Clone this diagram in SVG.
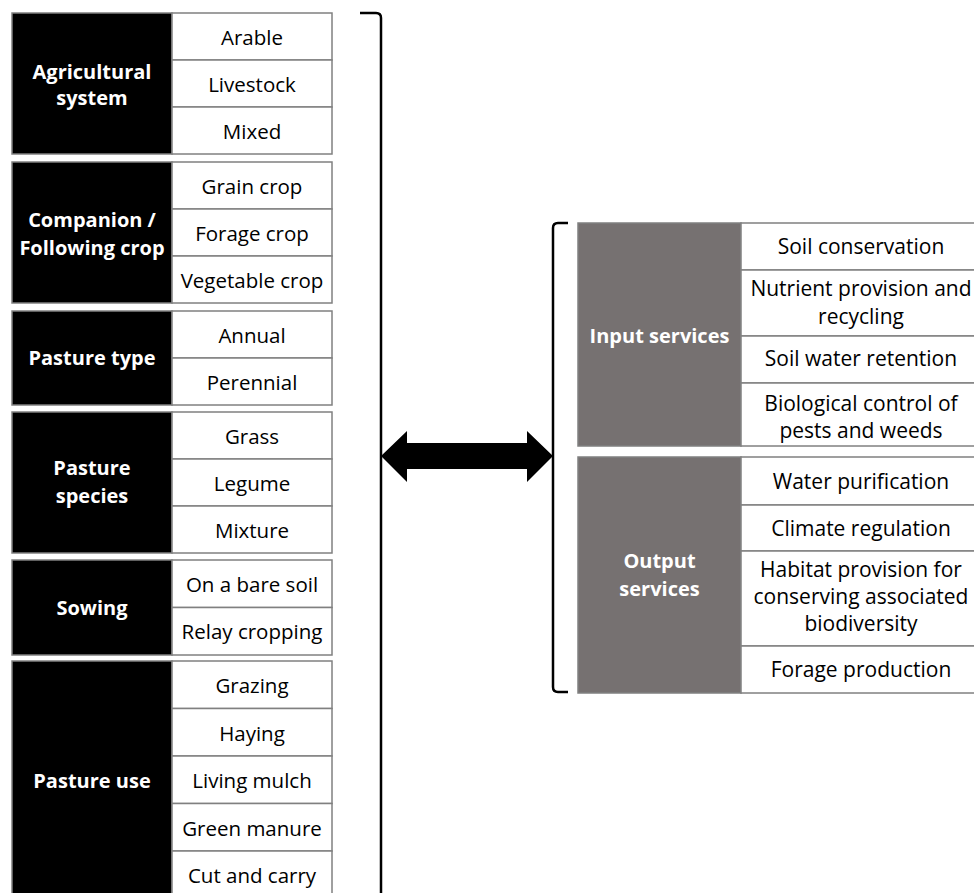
<svg xmlns="http://www.w3.org/2000/svg" width="974" height="893" viewBox="0 0 974 893">
<style>
.hd{fill:#000000;stroke:#808080;stroke-width:1.5}
.hg{fill:#767171;stroke:#808080;stroke-width:1.5}
.cell{fill:#ffffff;stroke:#808080;stroke-width:1.5}
.t{font-family:"Open Sans","Liberation Sans",sans-serif;font-size:20.5px;fill:#000;text-anchor:middle}
.tr{font-family:"Open Sans","Liberation Sans",sans-serif;font-size:21px;fill:#000;text-anchor:middle}
.b{font-family:"Open Sans","Liberation Sans",sans-serif;font-size:20px;font-weight:bold;fill:#fff;text-anchor:middle}
.br{fill:none;stroke:#000;stroke-width:2.5}
</style>
<rect width="974" height="893" fill="#ffffff"/>

<g id="agricultural-system">
<rect class="hd" x="12" y="13" width="160" height="141"/>
<rect class="cell" x="172" y="13" width="160" height="47"/>
<rect class="cell" x="172" y="60" width="160" height="47"/>
<rect class="cell" x="172" y="107" width="160" height="47"/>
<text class="b" x="92" y="79">Agricultural</text>
<text class="b" x="92" y="105">system</text>
<text class="t" x="252" y="44.5">Arable</text>
<text class="t" x="252" y="91.5">Livestock</text>
<text class="t" x="252" y="138.5">Mixed</text>
</g>

<g id="companion-crop">
<rect class="hd" x="12" y="162" width="160" height="141"/>
<rect class="cell" x="172" y="162" width="160" height="47"/>
<rect class="cell" x="172" y="209" width="160" height="47"/>
<rect class="cell" x="172" y="256" width="160" height="47"/>
<text class="b" x="92" y="227">Companion /</text>
<text class="b" x="92" y="255">Following crop</text>
<text class="t" x="252" y="193.5">Grain crop</text>
<text class="t" x="252" y="240.5">Forage crop</text>
<text class="t" x="252" y="287.5">Vegetable crop</text>
</g>

<g id="pasture-type">
<rect class="hd" x="12" y="311" width="160" height="94"/>
<rect class="cell" x="172" y="311" width="160" height="47"/>
<rect class="cell" x="172" y="358" width="160" height="47"/>
<text class="b" x="92" y="365">Pasture type</text>
<text class="t" x="252" y="342.5">Annual</text>
<text class="t" x="252" y="389.5">Perennial</text>
</g>

<g id="pasture-species">
<rect class="hd" x="12" y="412" width="160" height="141"/>
<rect class="cell" x="172" y="412" width="160" height="47"/>
<rect class="cell" x="172" y="459" width="160" height="47"/>
<rect class="cell" x="172" y="506" width="160" height="47"/>
<text class="b" x="92" y="475">Pasture</text>
<text class="b" x="92" y="503">species</text>
<text class="t" x="252" y="443.5">Grass</text>
<text class="t" x="252" y="490.5">Legume</text>
<text class="t" x="252" y="537.5">Mixture</text>
</g>

<g id="sowing">
<rect class="hd" x="12" y="560" width="160" height="95"/>
<rect class="cell" x="172" y="560" width="160" height="47.5"/>
<rect class="cell" x="172" y="607.5" width="160" height="47.5"/>
<text class="b" x="92" y="615">Sowing</text>
<text class="t" x="252" y="591.5">On a bare soil</text>
<text class="t" x="252" y="639">Relay cropping</text>
</g>

<g id="pasture-use">
<rect class="hd" x="12" y="661" width="160" height="238"/>
<rect class="cell" x="172" y="661" width="160" height="47.5"/>
<rect class="cell" x="172" y="708.5" width="160" height="47.5"/>
<rect class="cell" x="172" y="756" width="160" height="47.5"/>
<rect class="cell" x="172" y="803.5" width="160" height="47.5"/>
<rect class="cell" x="172" y="851" width="160" height="48"/>
<text class="b" x="92" y="788">Pasture use</text>
<text class="t" x="252" y="693">Grazing</text>
<text class="t" x="252" y="740.5">Haying</text>
<text class="t" x="252" y="788">Living mulch</text>
<text class="t" x="252" y="835.5">Green manure</text>
<text class="t" x="252" y="883">Cut and carry</text>
</g>

<g id="input-services">
<rect class="hg" x="578" y="223" width="163" height="223"/>
<rect class="cell" x="741" y="223" width="245" height="47"/>
<rect class="cell" x="741" y="270" width="245" height="66"/>
<rect class="cell" x="741" y="336" width="245" height="47"/>
<rect class="cell" x="741" y="383" width="245" height="63"/>
<text class="b" x="659.5" y="343">Input services</text>
<text class="tr" x="861" y="254">Soil conservation</text>
<text class="tr" x="861" y="296">Nutrient provision and</text>
<text class="tr" x="861" y="324">recycling</text>
<text class="tr" x="861" y="366">Soil water retention</text>
<text class="tr" x="861" y="411">Biological control of</text>
<text class="tr" x="861" y="438">pests and weeds</text>
</g>

<g id="output-services">
<rect class="hg" x="578" y="457" width="163" height="236"/>
<rect class="cell" x="741" y="457" width="245" height="48"/>
<rect class="cell" x="741" y="505" width="245" height="46"/>
<rect class="cell" x="741" y="551" width="245" height="95"/>
<rect class="cell" x="741" y="646" width="245" height="47"/>
<text class="b" x="659.5" y="568">Output</text>
<text class="b" x="659.5" y="596">services</text>
<text class="tr" x="861" y="489">Water purification</text>
<text class="tr" x="861" y="536">Climate regulation</text>
<text class="tr" x="861" y="577">Habitat provision for</text>
<text class="tr" x="861" y="604">conserving associated</text>
<text class="tr" x="861" y="631">biodiversity</text>
<text class="tr" x="861" y="677">Forage production</text>
</g>

<g id="connectors">
<path class="br" d="M360,13 L376,13 Q381,13 381,18 L381,900"/>
<path class="br" d="M568,223 L558,223 Q553,223 553,228 L553,687 Q553,692 558,692 L568,692"/>
<polygon fill="#000" points="381,456 407,431 407,443 527,443 527,431 553,456 527,482 527,469 407,469 407,482"/>
</g>
</svg>
